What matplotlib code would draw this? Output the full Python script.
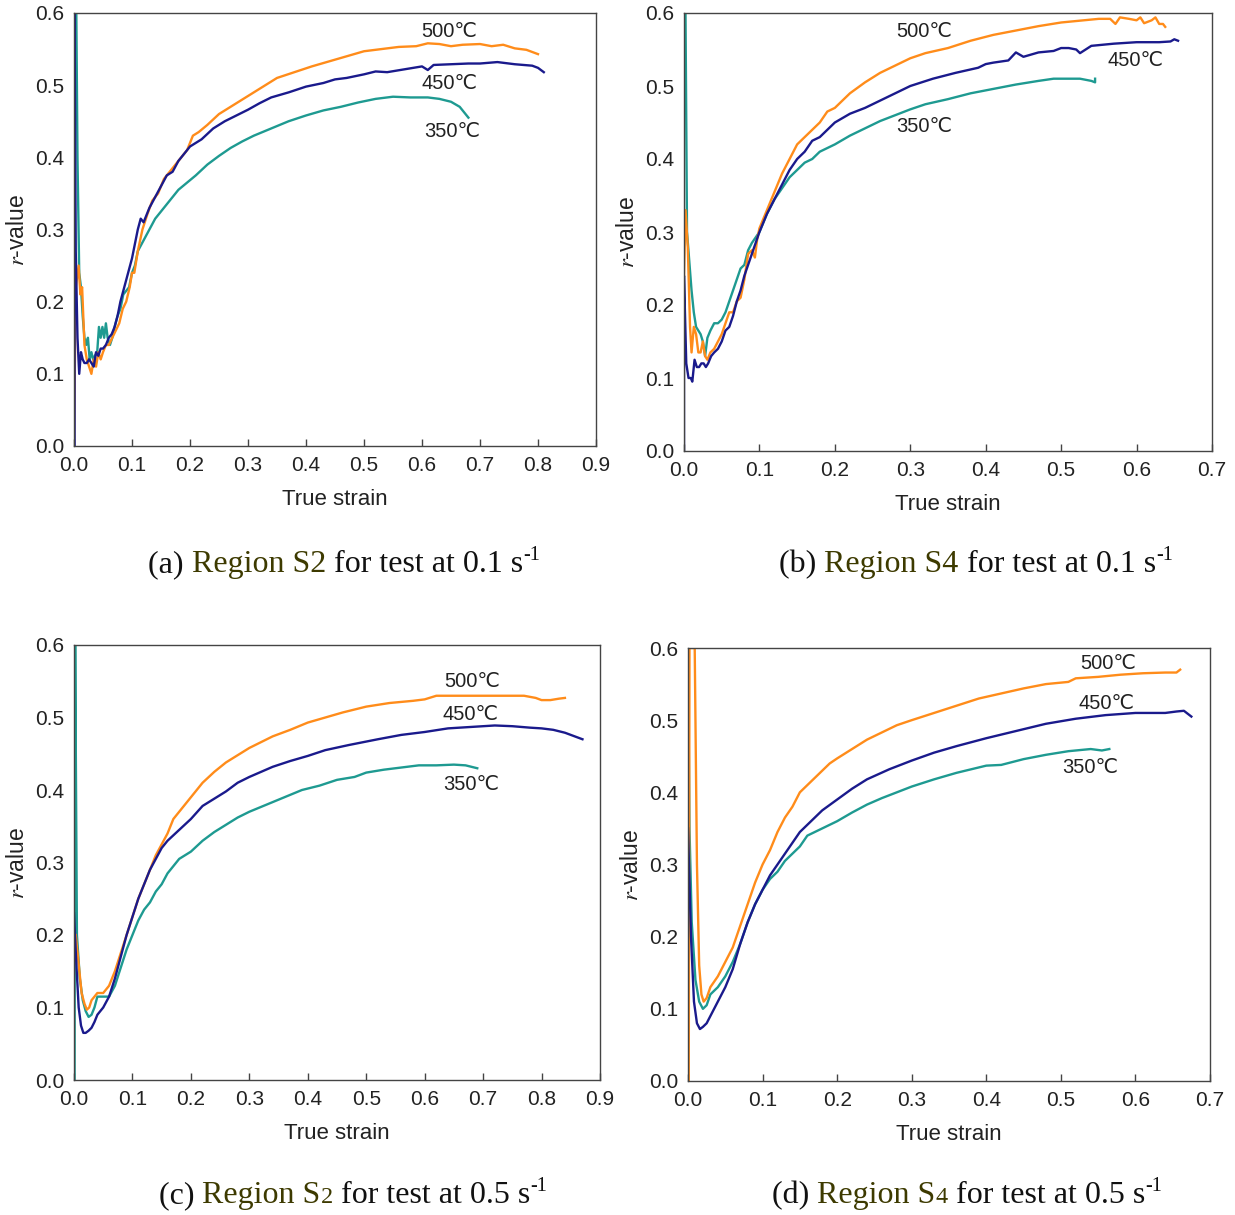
import matplotlib
matplotlib.use("Agg")
import matplotlib.pyplot as plt

plt.rcParams['font.family'] = ['Liberation Sans', 'DejaVu Sans']
plt.rcParams['mathtext.fontset'] = 'stix'

# ---- data (true strain, r-value) ----
# (a) region S2, 0.1 /s
a_x_500 = [0.0, 0.003, 0.008, 0.011, 0.014, 0.018, 0.022, 0.026, 0.030, 0.034, 0.038, 0.042, 0.046, 0.050, 0.055,
           0.060, 0.066, 0.072, 0.078, 0.084, 0.090, 0.096, 0.100, 0.104, 0.110, 0.118, 0.126, 0.135, 0.145, 0.155,
           0.165, 0.175, 0.185, 0.195, 0.205, 0.215, 0.23, 0.25, 0.27, 0.29, 0.31, 0.33, 0.35, 0.38, 0.41, 0.44,
           0.47, 0.50, 0.53, 0.56, 0.59, 0.61, 0.63, 0.65, 0.67, 0.70, 0.72, 0.74, 0.76, 0.78, 0.80]
a_r_500 = [0.01, 0.22, 0.25, 0.21, 0.22, 0.14, 0.12, 0.11, 0.10, 0.12, 0.11, 0.13, 0.12, 0.13, 0.14,
           0.14, 0.15, 0.16, 0.17, 0.19, 0.20, 0.22, 0.24, 0.24, 0.27, 0.30, 0.32, 0.34, 0.35, 0.37,
           0.38, 0.39, 0.40, 0.41, 0.43, 0.435, 0.445, 0.46, 0.47, 0.48, 0.49, 0.50, 0.51, 0.518, 0.526, 0.533,
           0.540, 0.547, 0.550, 0.553, 0.554, 0.558, 0.557, 0.554, 0.556, 0.557, 0.554, 0.556, 0.551, 0.549, 0.543]
a_x_450 = [0.001, 0.001, 0.003, 0.006, 0.009, 0.012, 0.015, 0.018, 0.022, 0.026, 0.030, 0.034, 0.038, 0.042, 0.046,
           0.05, 0.055, 0.06, 0.065, 0.07, 0.075, 0.08, 0.085, 0.09, 0.095, 0.1, 0.105, 0.11, 0.115, 0.12, 0.13,
           0.14, 0.15, 0.16, 0.17, 0.18, 0.19, 0.2, 0.21, 0.22, 0.24, 0.26, 0.28, 0.30, 0.32, 0.34, 0.37, 0.40,
           0.43, 0.45, 0.47, 0.50, 0.52, 0.54, 0.57, 0.60, 0.61, 0.62, 0.65, 0.68, 0.70, 0.73, 0.76, 0.79, 0.80, 0.81]
a_r_450 = [0.0, 0.6, 0.27, 0.15, 0.10, 0.13, 0.12, 0.115, 0.115, 0.12, 0.115, 0.11, 0.13, 0.125, 0.135,
           0.135, 0.14, 0.15, 0.155, 0.165, 0.18, 0.20, 0.215, 0.23, 0.245, 0.26, 0.28, 0.30, 0.315, 0.31, 0.33,
           0.345, 0.36, 0.375, 0.38, 0.395, 0.405, 0.415, 0.42, 0.425, 0.44, 0.45, 0.458, 0.466, 0.475, 0.483, 0.49, 0.498,
           0.503, 0.508, 0.51, 0.515, 0.519, 0.518, 0.522, 0.526, 0.521, 0.528, 0.529, 0.53, 0.53, 0.532, 0.529, 0.527, 0.524, 0.518]
a_x_350 = [0.004, 0.006, 0.009, 0.012, 0.015, 0.018, 0.021, 0.024, 0.027, 0.030, 0.033, 0.036, 0.040, 0.043, 0.046,
           0.049, 0.052, 0.055, 0.058, 0.062, 0.066, 0.070, 0.075, 0.080, 0.085, 0.09, 0.095, 0.1, 0.105, 0.11,
           0.12, 0.13, 0.14, 0.15, 0.165, 0.18, 0.195, 0.21, 0.23, 0.25, 0.27, 0.29, 0.31, 0.34, 0.37, 0.40,
           0.43, 0.46, 0.49, 0.52, 0.55, 0.58, 0.61, 0.63, 0.65, 0.665, 0.68]
a_r_350 = [0.6, 0.4, 0.24, 0.22, 0.18, 0.15, 0.14, 0.15, 0.12, 0.13, 0.12, 0.125, 0.13, 0.165, 0.15,
           0.165, 0.15, 0.17, 0.15, 0.14, 0.15, 0.165, 0.18, 0.19, 0.21, 0.215, 0.22, 0.24, 0.25, 0.27,
           0.285, 0.30, 0.315, 0.325, 0.34, 0.355, 0.365, 0.375, 0.39, 0.402, 0.413, 0.422, 0.43, 0.44, 0.45, 0.458,
           0.465, 0.47, 0.476, 0.481, 0.484, 0.483, 0.483, 0.481, 0.477, 0.47, 0.455]

# (b) region S4, 0.1 /s
b_x_500 = [0.0, 0.002, 0.005, 0.008, 0.010, 0.013, 0.016, 0.019, 0.022, 0.025, 0.028, 0.031, 0.035, 0.040, 0.045,
           0.05, 0.055, 0.06, 0.065, 0.07, 0.075, 0.08, 0.085, 0.09, 0.094, 0.097, 0.10, 0.11, 0.12, 0.13, 0.14,
           0.15, 0.16, 0.17, 0.18, 0.19, 0.2, 0.22, 0.24, 0.26, 0.28, 0.3, 0.32, 0.35, 0.38, 0.41, 0.44, 0.47,
           0.5, 0.53, 0.55, 0.565, 0.572, 0.578, 0.59, 0.60, 0.605, 0.61, 0.62, 0.625, 0.63, 0.635, 0.638]
b_r_500 = [0.24, 0.33, 0.28, 0.17, 0.135, 0.17, 0.16, 0.135, 0.135, 0.15, 0.13, 0.125, 0.135, 0.14, 0.15,
           0.16, 0.175, 0.19, 0.19, 0.205, 0.21, 0.235, 0.27, 0.275, 0.265, 0.29, 0.305, 0.33, 0.355, 0.38, 0.40,
           0.42, 0.43, 0.44, 0.45, 0.465, 0.47, 0.49, 0.505, 0.518, 0.528, 0.538, 0.545, 0.552, 0.562, 0.57, 0.576, 0.582,
           0.587, 0.59, 0.592, 0.592, 0.585, 0.594, 0.592, 0.59, 0.594, 0.586, 0.59, 0.594, 0.585, 0.585, 0.581]
b_x_450 = [0.0, 0.0, 0.003, 0.006, 0.009, 0.011, 0.014, 0.017, 0.020, 0.023, 0.026, 0.029, 0.032, 0.036, 0.04,
           0.045, 0.05, 0.055, 0.06, 0.065, 0.07, 0.075, 0.08, 0.085, 0.09, 0.1, 0.11, 0.12, 0.13, 0.14, 0.15,
           0.16, 0.17, 0.18, 0.19, 0.2, 0.22, 0.24, 0.26, 0.28, 0.3, 0.33, 0.36, 0.39, 0.40, 0.41, 0.43, 0.44,
           0.45, 0.47, 0.49, 0.50, 0.51, 0.52, 0.525, 0.54, 0.57, 0.6, 0.63, 0.645, 0.65, 0.655]
b_r_450 = [0.0, 0.24, 0.12, 0.10, 0.10, 0.095, 0.125, 0.115, 0.115, 0.12, 0.12, 0.115, 0.12, 0.13, 0.135,
           0.14, 0.15, 0.165, 0.17, 0.185, 0.205, 0.22, 0.24, 0.255, 0.27, 0.30, 0.325, 0.345, 0.365, 0.385, 0.40,
           0.41, 0.425, 0.43, 0.44, 0.45, 0.462, 0.47, 0.48, 0.49, 0.50, 0.51, 0.518, 0.525, 0.53, 0.532, 0.535, 0.546,
           0.54, 0.546, 0.548, 0.552, 0.552, 0.55, 0.545, 0.555, 0.558, 0.56, 0.56, 0.561, 0.564, 0.562]
b_x_350 = [0.002, 0.004, 0.007, 0.010, 0.013, 0.016, 0.019, 0.022, 0.025, 0.028, 0.031, 0.035, 0.04, 0.045, 0.05,
           0.055, 0.06, 0.065, 0.07, 0.075, 0.08, 0.085, 0.09, 0.1, 0.11, 0.12, 0.13, 0.14, 0.15, 0.16, 0.17,
           0.18, 0.2, 0.22, 0.24, 0.26, 0.28, 0.3, 0.32, 0.35, 0.38, 0.41, 0.44, 0.47, 0.49, 0.51, 0.525, 0.54, 0.545, 0.545]
b_r_350 = [0.6, 0.30, 0.26, 0.22, 0.19, 0.17, 0.165, 0.16, 0.15, 0.13, 0.155, 0.165, 0.175, 0.175, 0.18,
           0.19, 0.205, 0.22, 0.235, 0.25, 0.255, 0.275, 0.285, 0.30, 0.325, 0.345, 0.36, 0.375, 0.385, 0.395, 0.40,
           0.41, 0.42, 0.432, 0.442, 0.452, 0.46, 0.468, 0.475, 0.482, 0.49, 0.496, 0.502, 0.507, 0.51, 0.51, 0.51, 0.507, 0.505, 0.51]

# (c) region S2, 0.5 /s
c_x_500 = [0.003, 0.008, 0.013, 0.018, 0.022, 0.026, 0.030, 0.035, 0.04, 0.05, 0.06, 0.07, 0.08, 0.09, 0.1,
           0.11, 0.12, 0.13, 0.14, 0.15, 0.16, 0.17, 0.18, 0.19, 0.2, 0.22, 0.24, 0.26, 0.28, 0.30, 0.32, 0.34,
           0.37, 0.40, 0.43, 0.46, 0.50, 0.54, 0.58, 0.60, 0.62, 0.66, 0.70, 0.74, 0.77, 0.79, 0.80, 0.815, 0.83, 0.84]
c_r_500 = [0.20, 0.16, 0.12, 0.105, 0.097, 0.1, 0.11, 0.115, 0.12, 0.12, 0.13, 0.15, 0.175, 0.20, 0.225,
           0.25, 0.27, 0.29, 0.31, 0.325, 0.34, 0.36, 0.37, 0.38, 0.39, 0.41, 0.425, 0.438, 0.448, 0.458, 0.466, 0.474,
           0.483, 0.493, 0.5, 0.507, 0.515, 0.52, 0.523, 0.525, 0.53, 0.53, 0.53, 0.53, 0.53, 0.527, 0.524, 0.524, 0.526, 0.527]
c_x_450 = [0.0, 0.004, 0.008, 0.012, 0.016, 0.02, 0.025, 0.03, 0.035, 0.04, 0.05, 0.06, 0.07, 0.08, 0.09,
           0.1, 0.11, 0.12, 0.13, 0.14, 0.15, 0.16, 0.18, 0.2, 0.22, 0.24, 0.26, 0.28, 0.3, 0.32, 0.34, 0.37,
           0.4, 0.43, 0.47, 0.52, 0.56, 0.6, 0.64, 0.68, 0.72, 0.75, 0.78, 0.8, 0.82, 0.84, 0.87]
c_r_450 = [0.23, 0.16, 0.10, 0.075, 0.065, 0.065, 0.068, 0.072, 0.08, 0.09, 0.10, 0.115, 0.14, 0.17, 0.2,
           0.225, 0.25, 0.27, 0.29, 0.305, 0.32, 0.33, 0.345, 0.36, 0.378, 0.388, 0.398, 0.41, 0.418, 0.425, 0.432, 0.44,
           0.447, 0.455, 0.462, 0.47, 0.476, 0.48, 0.485, 0.487, 0.489, 0.488, 0.486, 0.485, 0.483, 0.479, 0.47]
c_x_350 = [0.001, 0.002, 0.005, 0.01, 0.015, 0.02, 0.025, 0.03, 0.035, 0.04, 0.045, 0.05, 0.055, 0.06, 0.07,
           0.08, 0.09, 0.1, 0.11, 0.12, 0.13, 0.14, 0.15, 0.16, 0.17, 0.18, 0.2, 0.22, 0.24, 0.26, 0.28, 0.3,
           0.33, 0.36, 0.39, 0.42, 0.45, 0.48, 0.5, 0.53, 0.56, 0.59, 0.62, 0.65, 0.67, 0.69]
c_r_350 = [0.0, 0.6, 0.2, 0.14, 0.11, 0.095, 0.087, 0.09, 0.1, 0.115, 0.115, 0.115, 0.115, 0.115, 0.13,
           0.155, 0.18, 0.2, 0.22, 0.235, 0.245, 0.26, 0.27, 0.285, 0.295, 0.305, 0.315, 0.33, 0.342, 0.352, 0.362, 0.37,
           0.38, 0.39, 0.4, 0.406, 0.414, 0.418, 0.424, 0.428, 0.431, 0.434, 0.434, 0.435, 0.434, 0.43]

# (d) region S4, 0.5 /s
d_x_500 = [0.001, 0.002, 0.009, 0.012, 0.015, 0.018, 0.021, 0.025, 0.03, 0.04, 0.05, 0.06, 0.07, 0.08, 0.09,
           0.1, 0.11, 0.12, 0.13, 0.14, 0.15, 0.16, 0.17, 0.18, 0.19, 0.2, 0.22, 0.24, 0.26, 0.28, 0.3, 0.33,
           0.36, 0.39, 0.42, 0.45, 0.48, 0.51, 0.52, 0.55, 0.58, 0.61, 0.64, 0.655, 0.66]
d_r_500 = [0.0, 0.6, 0.6, 0.3, 0.16, 0.12, 0.11, 0.115, 0.13, 0.145, 0.165, 0.185, 0.215, 0.245, 0.275,
           0.3, 0.32, 0.345, 0.365, 0.38, 0.4, 0.41, 0.42, 0.43, 0.44, 0.447, 0.46, 0.473, 0.483, 0.493, 0.5, 0.51,
           0.52, 0.53, 0.537, 0.544, 0.55, 0.553, 0.558, 0.56, 0.563, 0.565, 0.566, 0.566, 0.57]
d_x_450 = [0.0, 0.004, 0.008, 0.012, 0.016, 0.02, 0.025, 0.03, 0.035, 0.04, 0.05, 0.06, 0.07, 0.08, 0.09,
           0.1, 0.11, 0.12, 0.13, 0.14, 0.15, 0.16, 0.18, 0.2, 0.22, 0.24, 0.27, 0.3, 0.33, 0.36, 0.4, 0.44,
           0.48, 0.52, 0.56, 0.6, 0.64, 0.655, 0.665, 0.675]
d_r_450 = [0.35, 0.2, 0.11, 0.08, 0.072, 0.075, 0.08, 0.09, 0.1, 0.11, 0.13, 0.155, 0.19, 0.22, 0.245,
           0.265, 0.285, 0.3, 0.315, 0.33, 0.345, 0.355, 0.375, 0.39, 0.405, 0.418, 0.432, 0.444, 0.455, 0.464, 0.475, 0.485,
           0.495, 0.502, 0.507, 0.51, 0.51, 0.512, 0.513, 0.505]
d_x_350 = [0.0, 0.002, 0.005, 0.01, 0.015, 0.02, 0.025, 0.03, 0.04, 0.05, 0.06, 0.07, 0.08, 0.09, 0.1,
           0.11, 0.12, 0.13, 0.14, 0.15, 0.16, 0.17, 0.18, 0.2, 0.22, 0.24, 0.26, 0.28, 0.3, 0.33, 0.36, 0.4,
           0.42, 0.45, 0.48, 0.51, 0.54, 0.555, 0.565]
d_r_350 = [0.6, 0.35, 0.22, 0.14, 0.11, 0.1, 0.105, 0.12, 0.13, 0.145, 0.165, 0.19, 0.22, 0.245, 0.265,
           0.28, 0.29, 0.305, 0.315, 0.325, 0.34, 0.345, 0.35, 0.36, 0.372, 0.383, 0.392, 0.4, 0.408, 0.418, 0.427, 0.437,
           0.438, 0.446, 0.452, 0.457, 0.46, 0.458, 0.46]

temps = ['500', '450', '350']
# label anchor (strain, r) for each temperature per panel
a_lab = [(0.647, 0.575), (0.647, 0.503), (0.652, 0.436)]
b_lab = [(0.319, 0.574), (0.598, 0.535), (0.319, 0.444)]
c_lab = [(0.682, 0.55), (0.679, 0.504), (0.679, 0.408)]
d_lab = [(0.563, 0.578), (0.561, 0.523), (0.54, 0.435)]

captions = [
    ('(a) ', 'Region S2', None, ' for test at 0.1 s'),
    ('(b) ', 'Region S4', None, ' for test at 0.1 s'),
    ('(c) ', 'Region S', '2', ' for test at 0.5 s'),
    ('(d) ', 'Region S', '4', ' for test at 0.5 s'),
]

colors = {'500': '#FF8C1A', '450': '#1A1A8C', '350': '#1E9A91'}
olive = '#3D3A00'

W, H = 1235, 1215
fig = plt.figure(figsize=(W / 100, H / 100), dpi=100)

# axes boxes in pixels: left, top, right, bottom
boxes = [(74, 13, 596, 446), (684, 13, 1212, 451), (74, 645, 600, 1080), (688, 648, 1210, 1081)]
xmaxes = [0.9, 0.7, 0.9, 0.7]
panels = [
    [(a_x_500, a_r_500), (a_x_450, a_r_450), (a_x_350, a_r_350)],
    [(b_x_500, b_r_500), (b_x_450, b_r_450), (b_x_350, b_r_350)],
    [(c_x_500, c_r_500), (c_x_450, c_r_450), (c_x_350, c_r_350)],
    [(d_x_500, d_r_500), (d_x_450, d_r_450), (d_x_350, d_r_350)],
]
labpos = [a_lab, b_lab, c_lab, d_lab]
# caption centre x and baseline y in pixels
cap_pos = [(344, 572), (976, 572), (353, 1203), (967, 1203)]

for i in range(4):
    l, t, r, b = boxes[i]
    ax = fig.add_axes([l / W, (H - b) / H, (r - l) / W, (b - t) / H])
    # draw 350 first so 500/450 sit on top like the original
    for k in [2, 0, 1]:
        xs, rs = panels[i][k]
        ax.plot(xs, rs, color=colors[temps[k]], lw=1.7)
    for k in range(3):
        px, py = labpos[i][k]
        ax.text(px, py, temps[k] + '℃', ha='center', va='center', fontsize=14.5, color='#222222')
    ax.set_xlim(0, xmaxes[i])
    ax.set_ylim(0, 0.6)
    ax.set_xticks([j / 10 for j in range(int(round(xmaxes[i] * 10)) + 1)])
    ax.set_yticks([0.0, 0.1, 0.2, 0.3, 0.4, 0.5, 0.6])
    ax.xaxis.set_major_formatter(plt.FormatStrFormatter('%.1f'))
    ax.yaxis.set_major_formatter(plt.FormatStrFormatter('%.1f'))
    ax.tick_params(axis='x', direction='in', length=5, width=1, color='#444444', pad=7, labelsize=15, labelcolor='#222222')
    ax.tick_params(axis='y', direction='in', length=0, pad=7, labelsize=15, labelcolor='#222222')
    for s in ax.spines.values():
        s.set_color('#444444')
        s.set_linewidth(1.0)
    ax.set_xlabel('True strain', fontsize=16, color='#222222', labelpad=10)
    ax.set_ylabel('$\\mathit{r}$-value', fontsize=16.5, color='#222222', labelpad=4)

# captions, built piece by piece so "Region Sx" can be coloured
renderer = fig.canvas.get_renderer()
for i in range(4):
    pre, reg, sub, post = captions[i]
    # (text, colour, size, raise in px)
    pieces = [(pre, '#111111', 23, 0), (reg, olive, 23, 0)]
    if sub:
        pieces.append((sub, olive, 17.5, 0))
    pieces.append((post, '#111111', 23, 0))
    pieces.append(('-1', '#111111', 14.5, 12))
    cx, cy = cap_pos[i]
    arts = []
    for s, c, fs, dy in pieces:
        arts.append(fig.text(0, (H - cy + dy) / H, s, color=c, fontsize=fs, family='Liberation Serif', va='baseline'))
    widths = [a.get_window_extent(renderer).width for a in arts]
    x = cx - sum(widths) / 2
    for a, w in zip(arts, widths):
        a.set_x(x / W)
        x += w

fig.savefig('out.png', dpi=100, facecolor='white')
